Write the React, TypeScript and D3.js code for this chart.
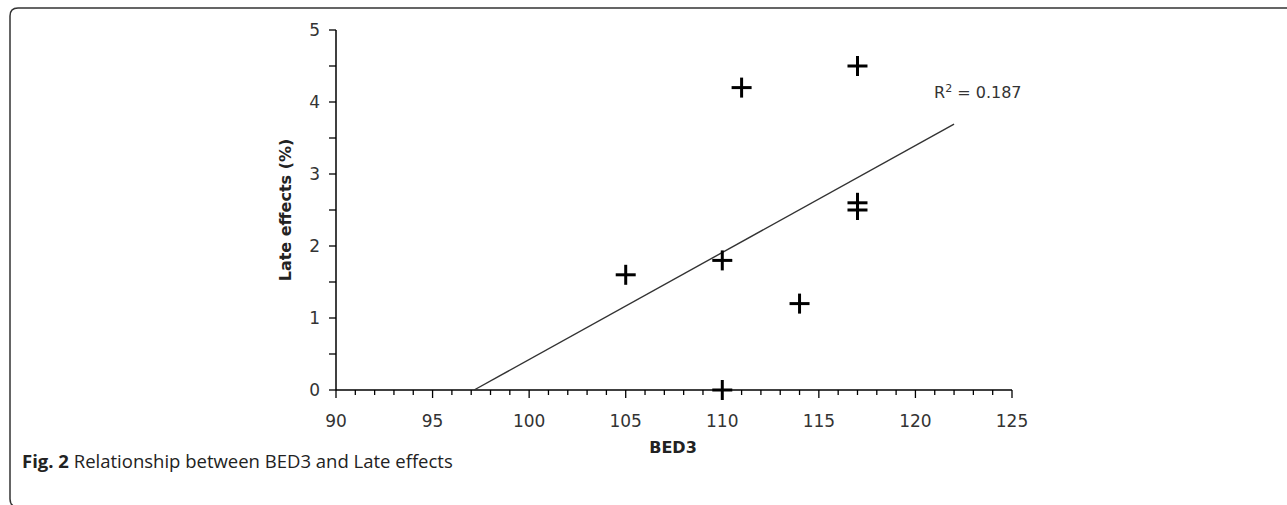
import React from 'react';
import * as d3 from 'd3';

// BED3 vs late effects (%)
const bed3 = [105, 110, 110, 111, 114, 117, 117, 117];
const lateEffects = [1.6, 1.8, 0, 4.2, 1.2, 4.5, 2.6, 2.5];

const xTicks = [90, 95, 100, 105, 110, 115, 120, 125];
const yTicks = [0, 1, 2, 3, 4, 5];
const trendEndX = 122;

const W = 1287;
const H = 505;
const axisFont = '"DejaVu Sans", sans-serif';

const App = () => {
  const x = d3.scaleLinear().domain([90, 125]).range([336, 1012]);
  const y = d3.scaleLinear().domain([0, 5]).range([390, 30]);

  // least squares fit, computed from the points
  const mx = d3.mean(bed3) as number;
  const my = d3.mean(lateEffects) as number;
  const sxy = d3.sum(bed3, (v, i) => (v - mx) * (lateEffects[i] - my));
  const sxx = d3.sum(bed3, v => (v - mx) ** 2);
  const syy = d3.sum(lateEffects, v => (v - my) ** 2);
  const slope = sxy / sxx;
  const icpt = my - slope * mx;
  const r2 = (sxy * sxy) / (sxx * syy);
  const xStart = -icpt / slope; // where the fit crosses y = 0
  const trend = d3.line<number>().x(d => x(d)).y(d => y(icpt + slope * d));

  const xMinor = d3.range(90, 126, 1);
  const yMinor = d3.range(0, 5.01, 0.5);

  return (
    <svg width={W} height={H} style={{ position: 'absolute', left: 0, top: 0 }}>
      <rect width={W} height={H} fill="#fff" />
      {/* frame */}
      <path
        d={`M ${W + 5} 8 L 18 8 Q 10 8 10 16 L 10 ${H - 6} Q 10 ${H + 2} 18 ${H + 2}`}
        fill="none"
        stroke="#333"
        strokeWidth={1.5}
      />

      {/* y axis */}
      <line x1={x(90)} x2={x(90)} y1={y(0)} y2={y(5)} stroke="#000" strokeWidth={1.5} />
      {yMinor.map(v => (
        <line key={'ym' + v} x1={x(90) - 7} x2={x(90)} y1={y(v)} y2={y(v)} stroke="#000" strokeWidth={1.3} />
      ))}
      {yTicks.map(v => (
        <text key={'yt' + v} x={x(90) - 16} y={y(v)} dy="0.36em" textAnchor="end"
          fontFamily={axisFont} fontSize={17} fill="#333">{v}</text>
      ))}

      {/* x axis */}
      <line x1={x(90)} x2={x(125)} y1={y(0)} y2={y(0)} stroke="#000" strokeWidth={1.5} />
      {xMinor.map(v => (
        <line key={'xm' + v} x1={x(v)} x2={x(v)} y1={y(0)} y2={y(0) + (v % 5 === 0 ? 8 : 5)}
          stroke="#000" strokeWidth={1.3} />
      ))}
      {xTicks.map(v => (
        <text key={'xt' + v} x={x(v)} y={427} textAnchor="middle"
          fontFamily={axisFont} fontSize={17} fill="#333">{v}</text>
      ))}

      {/* axis titles */}
      <text x={673} y={453} textAnchor="middle" fontFamily={axisFont} fontWeight="bold"
        fontSize={16} fill="#222">BED3</text>
      <text transform={`translate(291, ${(y(0) + y(5)) / 2}) rotate(-90)`} textAnchor="middle"
        fontFamily={axisFont} fontWeight="bold" fontSize={16} fill="#222">Late effects (%)</text>

      {/* trend line */}
      <path d={trend([xStart, trendEndX]) as string} fill="none" stroke="#333" strokeWidth={1.4} />
      <text x={934} y={98} fontFamily={axisFont} fontSize={16} fill="#333">
        R<tspan dy={-6} fontSize={11}>2</tspan><tspan dy={6}> = {r2.toFixed(3)}</tspan>
      </text>

      {/* points */}
      {bed3.map((b, i) => (
        <g key={'p' + i} transform={`translate(${x(b)},${y(lateEffects[i])})`} stroke="#000" strokeWidth={3}>
          <line x1={-10} x2={10} y1={0} y2={0} />
          <line x1={0} x2={0} y1={-10} y2={10} />
        </g>
      ))}

      {/* caption */}
      <text x={22} y={468} fontFamily='"Open Sans", sans-serif' fontSize={18.5} fill="#222">
        <tspan fontWeight="bold">Fig. 2</tspan> Relationship between BED3 and Late effects
      </text>
    </svg>
  );
};

export default App;
